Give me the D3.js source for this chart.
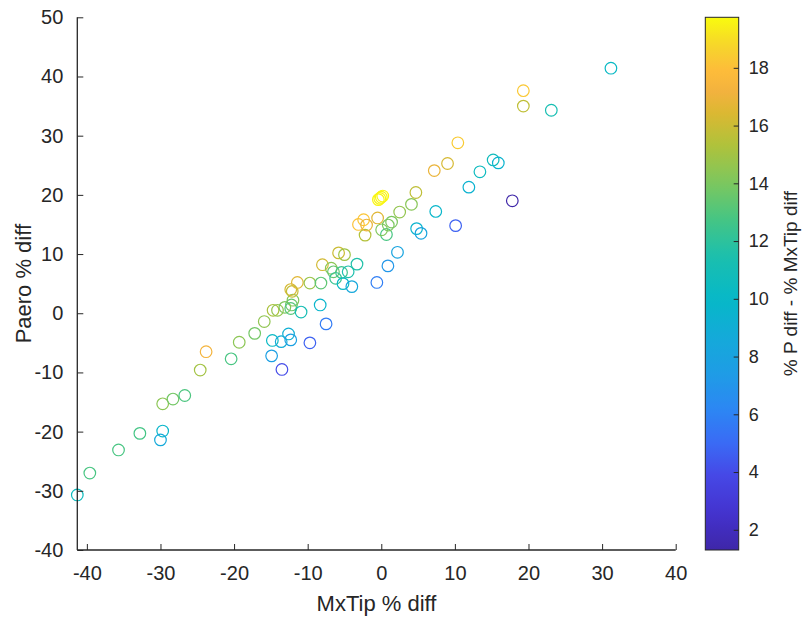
<!DOCTYPE html>
<html><head><meta charset="utf-8">
<script src="https://cdn.jsdelivr.net/npm/d3@7"></script>
<style>
body{margin:0;background:#fff;}
svg{display:block;font-family:"Liberation Sans",Arial,sans-serif;}
</style></head>
<body><svg id="chart" width="806" height="626"></svg>
<script>
// MxTip % diff
const xVals = [-41.3,-39.6,-35.7,-32.8,-29.7,-30.0,-29.7,-28.3,-26.7,-24.6,
  -23.8,-20.4,-19.3,-17.2,-15.9,-14.7,-14.1,-13.1,-12.0,-12.2,
  -12.3,-12.3,-12.1,-11.4,-10.9,-9.7,-8.2,-8.3,-7.5,-14.8,
  -13.6,-12.6,-12.3,-14.9,-13.5,-9.7,-8.0,-6.8,-6.5,-5.4,
  -4.5,-6.2,-5.2,-4.0,-5.8,-5.0,-3.3,-0.6,0.9,2.2,
  -2.2,0.7,0.05,0.95,1.4,-3.1,-2.4,-2.0,-0.5,2.5,
  4.1,4.7,-0.4,-0.2,0.0,0.2,4.8,5.4,7.4,10.1,
  7.2,9.0,10.4,11.9,13.4,15.2,15.9,17.8,19.3,19.3,
  23.1,31.2];
// Paero % diff
const yVals = [-30.7,-27.0,-23.1,-20.3,-19.9,-21.4,-15.3,-14.5,-13.9,-9.6,
  -6.5,-7.7,-4.9,-3.4,-1.4,0.5,0.5,1.0,2.2,1.4,
  0.8,4.0,3.7,5.2,0.2,5.1,5.1,1.4,-1.8,-4.6,
  -4.8,-3.5,-4.5,-7.2,-9.5,-5.0,8.2,7.6,7.0,6.9,
  7.0,5.9,5.0,4.5,10.2,9.9,8.3,5.2,8.0,10.3,
  13.2,13.3,14.1,14.9,15.4,15.0,15.8,14.9,16.1,17.1,
  18.4,20.4,19.2,19.4,19.6,19.8,14.3,13.5,17.2,14.8,
  24.1,25.3,28.8,21.3,23.9,25.9,25.4,19.0,37.6,35.0,
  34.3,41.4];
// % P diff - % MxTip diff (colour value)
const cVals = [10.6,12.8,12.8,12.7,9.8,8.6,14.4,13.8,12.9,15.0,
  17.3,12.8,14.4,13.8,14.5,15.2,14.6,14.1,14.2,13.6,
  13.1,16.3,15.8,16.6,11.1,14.8,13.3,9.7,5.7,10.2,
  8.8,9.1,7.8,7.7,4.0,4.7,16.2,14.4,13.5,12.5,
  11.5,12.3,10.2,8.5,16.0,14.9,11.6,5.8,7.1,8.1,
  15.4,12.8,14.1,14.0,14.0,18.1,18.2,16.9,16.6,14.6,
  14.3,15.7,19.6,19.6,19.6,19.6,9.5,8.1,9.8,4.7,
  16.9,16.3,18.4,9.4,10.5,10.7,9.5,1.3,18.3,15.7,
  11.2,10.2];
const xTicks = [-40,-30,-20,-10,0,10,20,30,40];
const yTicks = [-40,-30,-20,-10,0,10,20,30,40,50];
const cTicks = [2,4,6,8,10,12,14,16,18];
const xDomain = [-41.3, 40];
const yDomain = [-40, 50];
const cDomain = [1.3, 19.75];

// parula-like colour stops
const parulaStops = ["#3e26a8","#4433cf","#4648e6","#3a6af5","#2d85f4","#1f9ce6","#14aad9",
  "#06b8c8","#1bbfae","#45c584","#7dc75e","#b0c23b","#dbb832","#f2b23e","#fdbc3a","#f6d72a","#f9fb0e"];
const parulaPos = [0,0.07,0.14,0.20,0.26,0.33,0.40,0.47,0.55,0.62,0.69,0.76,0.82,0.86,0.90,0.95,1.0];

const ink = "#262626";
const svg = d3.select("#chart");
const L = 77.3, R = 675.7, T = 17.3, B = 550;
const fmt = d => String(d); // plain hyphen-minus like the original

const x = d3.scaleLinear().domain(xDomain).range([L, R]);
const y = d3.scaleLinear().domain(yDomain).range([B, T]);
const tScale = d3.scaleLinear().domain(parulaPos).range(parulaStops).interpolate(d3.interpolateRgb);
const cNorm = d3.scaleLinear().domain(cDomain).range([0,1]).clamp(true);
const color = v => tScale(cNorm(v));

// points
const pts = xVals.map((v,i)=>({x:v,y:yVals[i],c:cVals[i]}));
svg.append("g").selectAll("circle").data(pts).join("circle")
  .attr("cx", d=>x(d.x)).attr("cy", d=>y(d.y)).attr("r", 5.8)
  .attr("fill","none").attr("stroke", d=>color(d.c)).attr("stroke-width",1.2);

// axes
const xAxis = d3.axisBottom(x).tickValues(xTicks).tickFormat(fmt).tickSizeInner(-6).tickSizeOuter(0).tickPadding(16);
const gx = svg.append("g").attr("transform",`translate(0,${B})`).call(xAxis);
const yAxis = d3.axisLeft(y).tickValues(yTicks).tickFormat(fmt).tickSizeInner(-6).tickSizeOuter(0).tickPadding(14);
const gy = svg.append("g").attr("transform",`translate(${L},0)`).call(yAxis);
[gx,gy].forEach(g=>{
  g.select(".domain").attr("stroke",ink).attr("stroke-width",1.3);
  g.selectAll(".tick line").attr("stroke",ink).attr("stroke-width",1);
  g.selectAll(".tick text").attr("fill",ink).style("font-size","20px").style("font-family","'Liberation Sans',Arial,sans-serif");
});
gx.select(".domain").attr("d",`M${L},0H${R}`);
gy.select(".domain").attr("d",`M0,${B}V${T}`);

svg.append("text").attr("x",(L+R)/2).attr("y",611).attr("text-anchor","middle")
  .attr("fill",ink).style("font-size","22px").text("MxTip % diff");
svg.append("text").attr("transform",`translate(31,${(T+B)/2}) rotate(-90)`).attr("text-anchor","middle")
  .attr("fill",ink).style("font-size","22px").text("Paero % diff");

// colorbar
const cbL = 705.3, cbR = 738.7;
const cy = d3.scaleLinear().domain(cDomain).range([B, T]);
const defs = svg.append("defs");
const grad = defs.append("linearGradient").attr("id","cbgrad").attr("x1",0).attr("y1",1).attr("x2",0).attr("y2",0);
d3.range(0,1.0001,0.02).forEach(t=>{
  grad.append("stop").attr("offset",t).attr("stop-color",tScale(t));
});
svg.append("rect").attr("x",cbL).attr("y",T).attr("width",cbR-cbL).attr("height",B-T)
  .attr("fill","url(#cbgrad)").attr("stroke",ink).attr("stroke-width",1);
const cAxis = d3.axisRight(cy).tickValues(cTicks).tickFormat(fmt).tickSizeInner(-5).tickSizeOuter(0).tickPadding(10);
const gc = svg.append("g").attr("transform",`translate(${cbR},0)`).call(cAxis);
gc.select(".domain").remove();
gc.selectAll(".tick line").attr("stroke",ink).attr("stroke-width",1);
gc.selectAll(".tick text").attr("fill",ink).style("font-size","18px").style("font-family","'Liberation Sans',Arial,sans-serif");
svg.append("text").attr("transform",`translate(797,${(T+B)/2}) rotate(-90)`).attr("text-anchor","middle")
  .attr("fill",ink).style("font-size","19px").text("% P diff - % MxTip diff");
</script></body></html>
